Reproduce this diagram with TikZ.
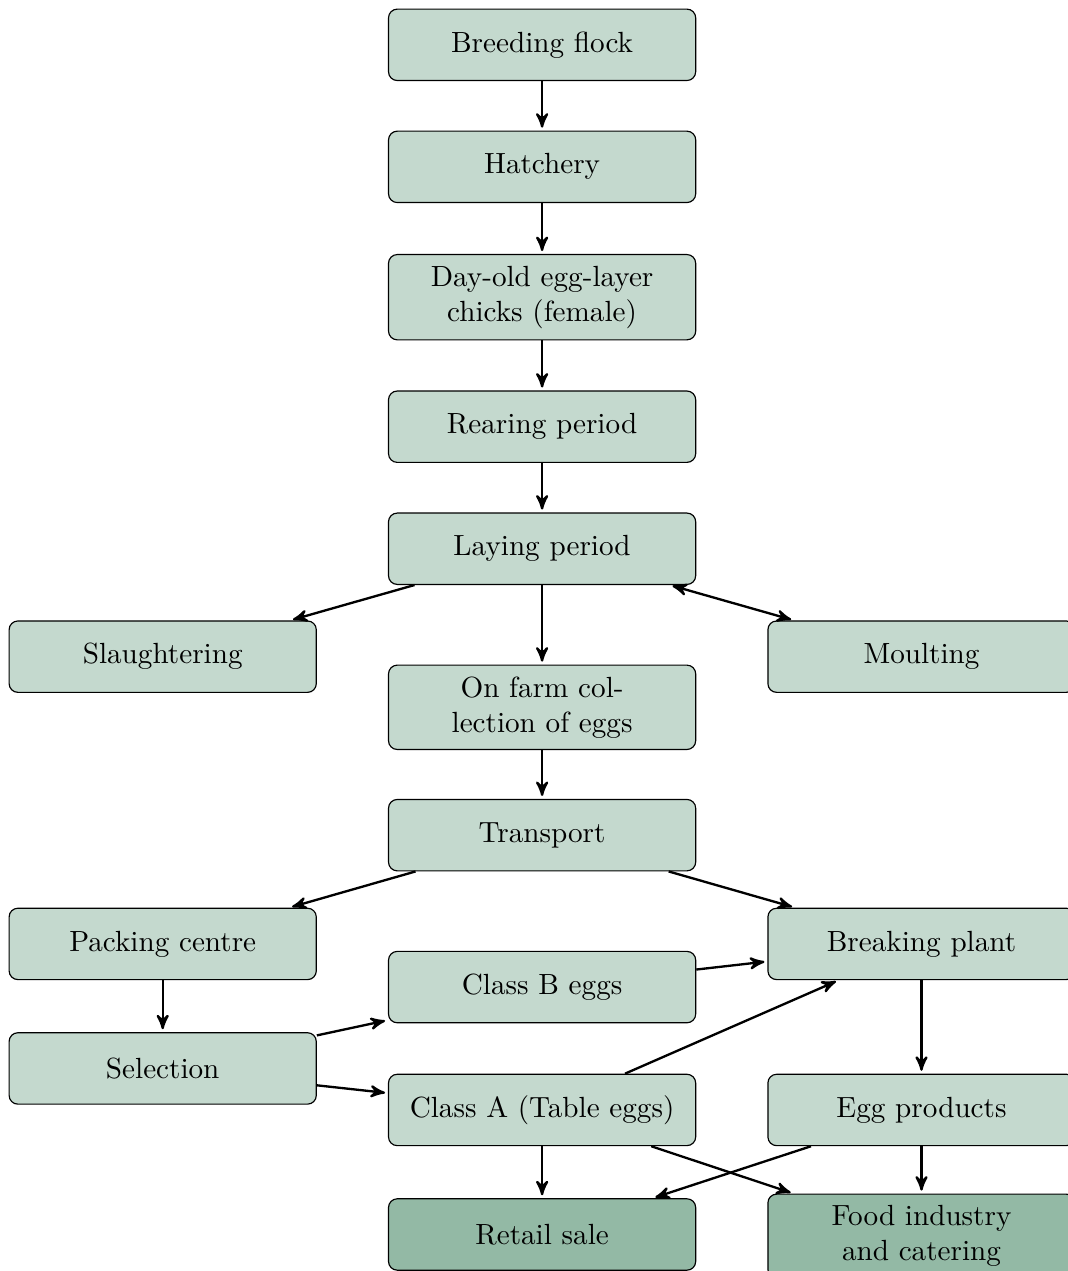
\documentclass[tikz,border=0pt]{standalone}
\usetikzlibrary{arrows}
\definecolor{stagegreen}{HTML}{C4D9CE}
\definecolor{endgreen}{HTML}{93B9A5}
\begin{document}
\begin{tikzpicture}[stage/.style={draw,fill=stagegreen,rounded corners=3pt,
        text width=3.45cm,align=center,minimum width=3.7cm,minimum
        height=0.86cm,inner xsep=3pt,inner ysep=3.9pt},endstage/.style={stage,fill=endgreen},
        >=stealth',flow/.style={->,thick,shorten >=1pt}]
    \useasboundingbox (-6.53,0.54) rectangle (6.33,-14.77);

    \node[stage] (breed) at (0,0) {Breeding flock};
    \node[stage] (hatch) at (0,-1.47) {Hatchery};
    \node[stage] (chicks) at (0,-3.04) {Day-old egg-layer chicks (female)};
    \node[stage] (rear) at (0,-4.60) {Rearing period};
    \node[stage] (lay) at (0,-6.07) {Laying period};
    \node[stage] (slaughter) at (-4.57,-7.37) {Slaughtering};
    \node[stage] (moult) at (4.57,-7.37) {Moulting};
    \node[stage] (collect) at (0,-7.98) {On farm col-\\lection of eggs};
    \node[stage] (trans) at (0,-9.52) {Transport};
    \node[stage] (pack) at (-4.57,-10.83) {Packing centre};
    \node[stage] (break) at (4.57,-10.83) {Breaking plant};
    \node[stage] (classb) at (0,-11.35) {Class B eggs};
    \node[stage] (select) at (-4.57,-12.33) {Selection};
    \node[stage] (classa) at (0,-12.83) {Class A (Table eggs)};
    \node[stage] (prod) at (4.57,-12.83) {Egg products};
    \node[endstage] (retail) at (0,-14.33) {Retail sale};
    \node[endstage] (food) at (4.57,-14.35) {Food industry\\and catering};

    \draw[flow] (breed) -- (hatch);
    \draw[flow] (hatch) -- (chicks);
    \draw[flow] (chicks) -- (rear);
    \draw[flow] (rear) -- (lay);
    \draw[flow] (lay) -- (slaughter);
    \draw[flow,<->,shorten <=1pt] (lay) -- (moult);
    \draw[flow] (lay) -- (collect);
    \draw[flow] (collect) -- (trans);
    \draw[flow] (trans) -- (pack);
    \draw[flow] (trans) -- (break);
    \draw[flow] (pack) -- (select);
    \draw[flow] (select) -- (classb);
    \draw[flow] (select) -- (classa);
    \draw[flow] (classb) -- (break);
    \draw[flow] (classa) -- (break);
    \draw[flow] (break) -- (prod);
    \draw[flow] (classa) -- (retail);
    \draw[flow] (classa) -- (food);
    \draw[flow] (prod) -- (retail);
    \draw[flow] (prod) -- (food);

  \end{tikzpicture}
\end{document}
